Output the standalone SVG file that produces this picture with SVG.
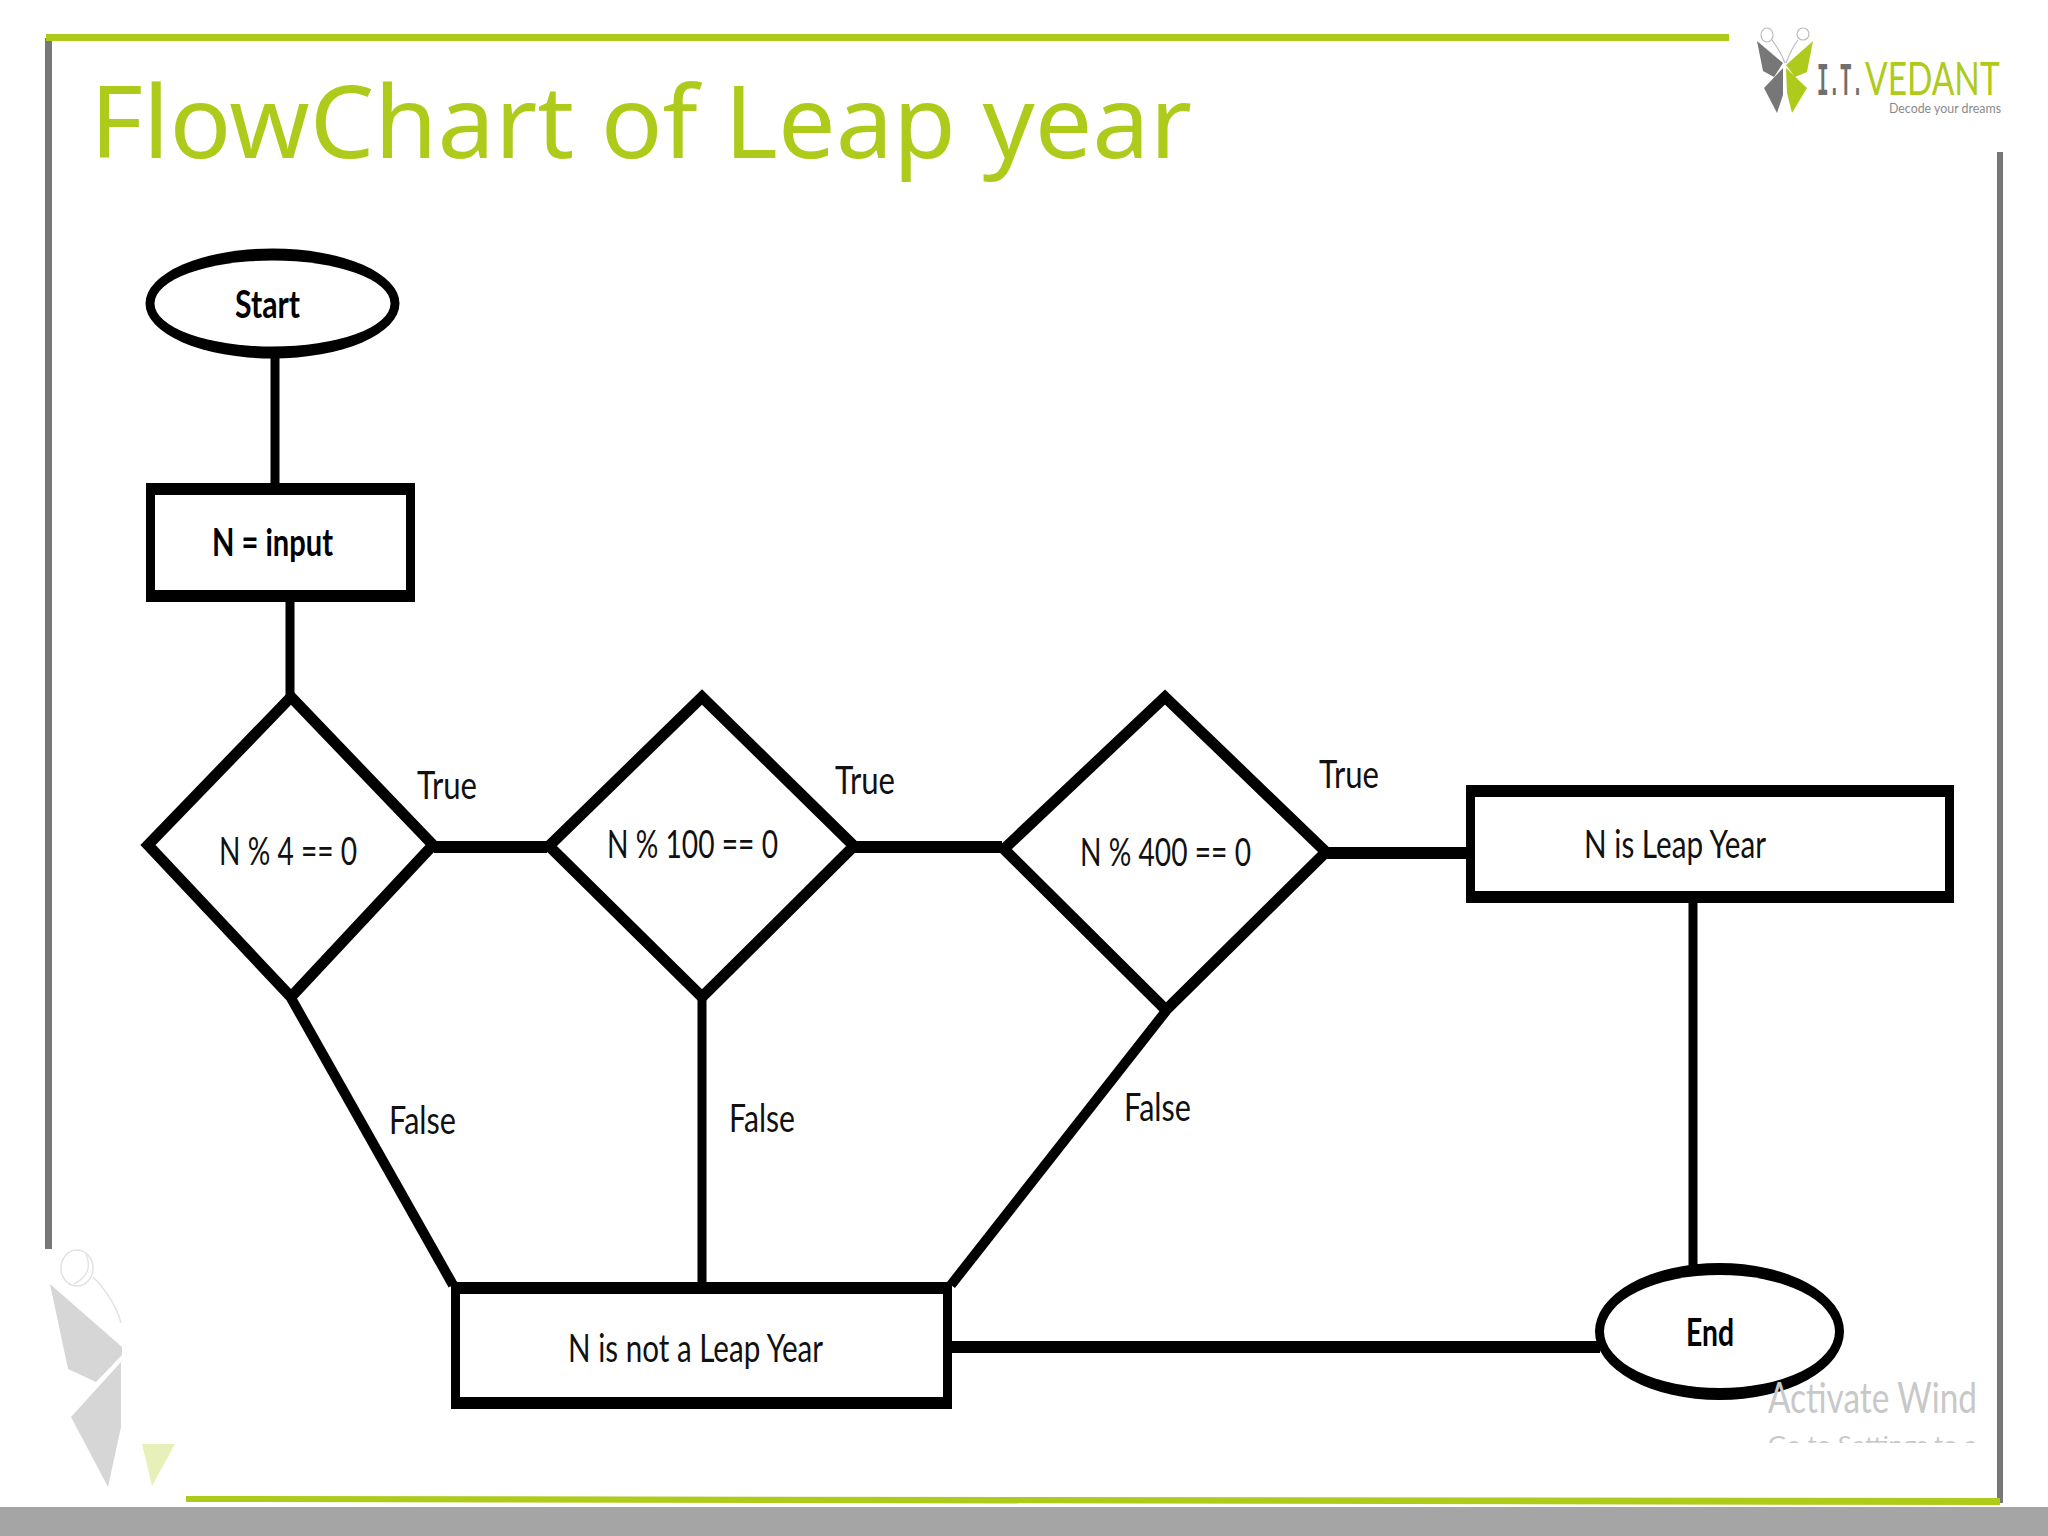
<svg xmlns="http://www.w3.org/2000/svg" width="2048" height="1536" viewBox="0 0 2048 1536">
<style>
.o{fill:#000}
.i{fill:#fff}
.d{fill:#fff;stroke:#000;stroke-width:11;stroke-linejoin:miter}
.c{fill:none;stroke:#000;stroke-width:10}
.h{stroke-width:12}
.v{stroke-width:9}
.t{font-family:Lato,"Liberation Sans",sans-serif;font-size:38px;fill:#111}
.b{font-weight:700;fill:#000}
.gb{fill:#777}
.gr{fill:#aecb1c}
.ghost{fill:#d6d6d6}
</style>
<defs><clipPath id="wm"><rect x="1760" y="1370" width="230" height="73"/></clipPath></defs>
<rect width="2048" height="1536" fill="#fff"/>
<g id="frame">
<rect x="0" y="1507" width="2048" height="29" fill="#a5a5a5"/>
<rect class="gb" x="45" y="38" width="7" height="1211"/>
<rect class="gr" x="46" y="34" width="1683" height="7"/>
<rect class="gb" x="1997" y="152" width="6" height="1351"/>
<polygon class="gr" points="186,1496 2000,1498 2000,1505 186,1502"/>
</g>
<g id="logo">
<polygon class="gb" points="1757,41 1783,63 1774,77 1763,71"/>
<polygon class="gb" points="1783,68 1783,95 1777,113 1764,88"/>
<polygon class="gr" points="1813,41 1807,72 1795,77 1786,65"/>
<polygon class="gr" points="1786,68 1807,88 1792,113 1787,93"/>
<g fill="none" stroke="#bbb" stroke-width="1.2">
<ellipse cx="1767" cy="35" rx="6" ry="7"/><ellipse cx="1803" cy="34" rx="6" ry="6"/>
<path d="M1772,40C1778,48 1782,55 1785,63M1798,40C1792,48 1789,55 1786,63"/>
</g>
<text transform="translate(1817,95) scale(.42,1)" font-family="Liberation Mono,monospace" font-size="46" font-weight="700" fill="#6f6f6f" textLength="110" lengthAdjust="spacingAndGlyphs">I.T.</text>
<text transform="translate(1865,95) scale(.72,1)" font-family="Lato,sans-serif" font-size="47" fill="#aecb1c" textLength="187" lengthAdjust="spacingAndGlyphs">VEDANT</text>
<text x="1889" y="113" font-family="Lato,sans-serif" font-size="14" fill="#8a8a8a" textLength="112" lengthAdjust="spacingAndGlyphs">Decode your dreams</text>
</g>
<g id="ghost-logo">
<polygon class="ghost" points="50,1284 122,1347 122,1355 96,1382 68,1369"/>
<polygon class="ghost" points="121,1362 121,1427 108,1487 71,1417"/>
<polygon points="142,1444 175,1444 152,1486" fill="#e6f0b8"/>
<g fill="none" stroke="#e2e2e2" stroke-width="1.5">
<ellipse cx="77" cy="1268" rx="16" ry="18"/>
<path d="M93,1277C106,1290 116,1305 121,1323M86,1254C92,1268 86,1278 74,1284"/>
</g>
</g>
<text id="title" x="90" y="158" font-family="Noto Sans,Open Sans,sans-serif" font-size="101" fill="#aecb1c" textLength="1102" lengthAdjust="spacingAndGlyphs">FlowChart of Leap year</text>
<g id="connectors">
<path class="c v" d="M275,355V486"/>
<path class="c v" d="M290,600V696"/>
<path class="c h" d="M434,847H547"/>
<path class="c h" d="M855,847H1002"/>
<path class="c h" d="M1327,853H1468"/>
<path class="c v" d="M1693,901V1270"/>
<path class="c" d="M291,998L453,1285"/>
<path class="c v" d="M702,998V1285"/>
<path class="c" d="M1166,1011L951,1285"/>
<path class="c h" d="M949,1347H1600"/>
</g>
<g id="start"><ellipse class="o" cx="272.500" cy="303.500" rx="127" ry="55"/><ellipse class="i" cx="272.500" cy="303.500" rx="118" ry="43"/><text class="t b" x="235" y="318" textLength="65" lengthAdjust="spacingAndGlyphs">Start</text></g>
<g id="input"><rect class="o" x="146" y="483" width="269" height="119"/><rect class="i" x="155" y="495" width="251" height="95"/><text class="t b" x="212" y="556" textLength="121" lengthAdjust="spacingAndGlyphs">N = input</text></g>
<g id="d1"><polygon class="d" points="291,697 148,845 291,997 433,845"/><text class="t" x="219" y="865" textLength="138" lengthAdjust="spacingAndGlyphs">N % 4 == 0</text></g>
<g id="d2"><polygon class="d" points="702,697 549,846 702,997 854,846"/><text class="t" x="607" y="858" textLength="171" lengthAdjust="spacingAndGlyphs">N % 100 == 0</text></g>
<g id="d3"><polygon class="d" points="1165,697 1004,849 1166,1010 1326,852"/><text class="t" x="1080" y="866" textLength="171" lengthAdjust="spacingAndGlyphs">N % 400 == 0</text></g>
<g id="leap"><rect class="o" x="1466" y="785" width="488" height="118"/><rect class="i" x="1475" y="797" width="470" height="94"/><text class="t" x="1584" y="858" textLength="182" lengthAdjust="spacingAndGlyphs">N is Leap Year</text></g>
<g id="notleap"><rect class="o" x="451" y="1282" width="501" height="127"/><rect class="i" x="460" y="1294" width="483" height="103"/><text class="t" x="568" y="1362" textLength="255" lengthAdjust="spacingAndGlyphs">N is not a Leap Year</text></g>
<g id="end"><ellipse class="o" cx="1719.500" cy="1331.500" rx="124.500" ry="68.500"/><ellipse class="i" cx="1719.500" cy="1331.500" rx="115.500" ry="56.500"/><text class="t b" x="1686" y="1346" textLength="48" lengthAdjust="spacingAndGlyphs">End</text></g>
<g id="labels">
<text class="t" x="417" y="799" textLength="60" lengthAdjust="spacingAndGlyphs">True</text>
<text class="t" x="835" y="794" textLength="60" lengthAdjust="spacingAndGlyphs">True</text>
<text class="t" x="1319" y="788" textLength="60" lengthAdjust="spacingAndGlyphs">True</text>
<text class="t" x="389" y="1134" textLength="67" lengthAdjust="spacingAndGlyphs">False</text>
<text class="t" x="729" y="1132" textLength="66" lengthAdjust="spacingAndGlyphs">False</text>
<text class="t" x="1124" y="1121" textLength="67" lengthAdjust="spacingAndGlyphs">False</text>
</g>
<g id="watermark" clip-path="url(#wm)" font-family="Lato,sans-serif" fill="#c8c8c8">
<text x="1768" y="1413" font-size="42" textLength="209" lengthAdjust="spacingAndGlyphs">Activate Wind</text>
<text x="1768" y="1453" font-size="24" textLength="209" lengthAdjust="spacingAndGlyphs">Go to Settings to a</text>
</g>
</svg>
